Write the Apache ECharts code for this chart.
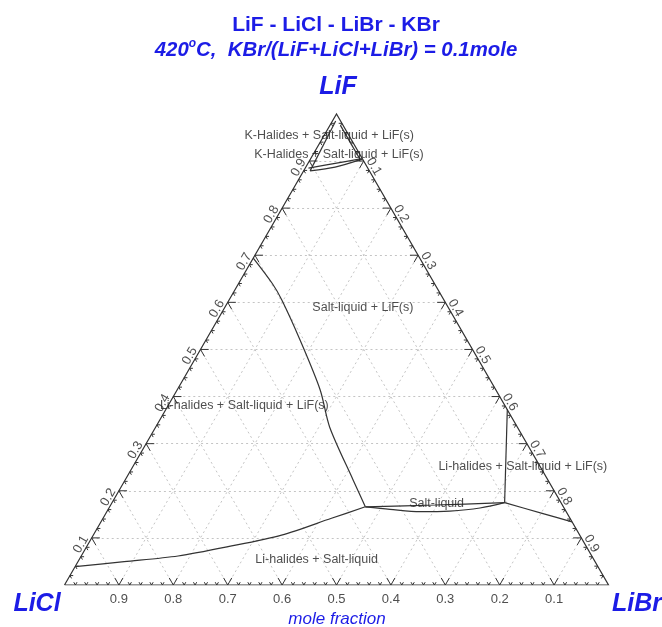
<!DOCTYPE html>
<html>
<head>
<meta charset="utf-8">
<script src="https://cdn.jsdelivr.net/npm/echarts@6/dist/echarts.min.js"></script>
<style>
    html, body { margin: 0; background: #fff; }
    #chart { width: 662px; height: 627px; }
</style>
</head>
<body>
<div id="chart"></div>
<script>
// every point is [LiF, LiBr] in mole fraction, LiCl = 1 - LiF - LiBr
const bottomTicks = ["0.9", "0.8", "0.7", "0.6", "0.5", "0.4", "0.3", "0.2", "0.1"]; // LiCl
const leftTicks = ["0.1", "0.2", "0.3", "0.4", "0.5", "0.6", "0.7", "0.8", "0.9"]; // LiF
const rightTicks = ["0.1", "0.2", "0.3", "0.4", "0.5", "0.6", "0.7", "0.8", "0.9"]; // LiBr

// phase boundaries
const lifLiquidus = [[0.694, 0.0], [0.64, 0.062], [0.605, 0.097], [0.52, 0.173], [0.414, 0.263], [0.335, 0.32], [0.223, 0.419], [0.166, 0.47]];
const liclLiquidus = [[0.039, 0.0], [0.0495, 0.085], [0.0616, 0.178], [0.0813, 0.26], [0.106, 0.346], [0.1416, 0.42], [0.166, 0.47]];
const lensUpper = [[0.166, 0.47], [0.1698, 0.596], [0.1747, 0.7217]];
const lensLower = [[0.166, 0.47], [0.1607, 0.518], [0.1556, 0.5757], [0.157, 0.63], [0.1634, 0.682], [0.1747, 0.7217]];
const rightTie = [[0.373, 0.6275], [0.1747, 0.7217]];
const librBranch = [[0.1747, 0.7217], [0.152, 0.802], [0.134, 0.866]];
const apexLeft = [[0.985, 0.006], [0.879, 0.012]];
const apexRight = [[0.975, 0.02], [0.905, 0.09]];
const apexUpper = [[0.885, 0.006], [0.895, 0.05], [0.905, 0.094]];
const apexLower = [[0.879, 0.012], [0.887, 0.054], [0.904, 0.095]];

const regionNames = [
    "K-Halides + Salt-liquid + LiF(s)",
    "K-Halides + Salt-liquid + LiF(s)",
    "Salt-liquid + LiF(s)",
    "Li-halides + Salt-liquid + LiF(s)",
    "Li-halides + Salt-liquid + LiF(s)",
    "Salt-liquid",
    "Li-halides + Salt-liquid",
];
const regionPos = [[0.955, 0.009], [0.913, 0.048], [0.589, 0.254], [0.381, 0.14], [0.251, 0.717], [0.172, 0.598], [0.055, 0.436]];

const blue = "#1c1ce6";
const font = "Liberation Sans, Arial, sans-serif";

function tern(a, c) {
    return [c + a / 2, a * Math.sqrt(3) / 2];
}

function seg(p, q) {
    return { coords: [tern(p[0], p[1]), tern(q[0], q[1])] };
}

// dotted grid, one line per 0.1 in each direction
const gridData = [];
for (let k = 1; k < 10; k++) {
    const v = k / 10;
    gridData.push(seg([v, 0], [v, 1 - v]));   // LiF const
    gridData.push(seg([0, v], [1 - v, v]));   // LiBr const
    gridData.push(seg([0, 1 - v], [1 - v, 0])); // LiCl const
}

// tick marks every 0.02, bigger every 0.1
const tickData = [];
for (let k = 1; k < 50; k++) {
    const t = k / 50;
    const len = k % 5 === 0 ? 0.015 : 0.006;
    // bottom edge
    tickData.push({ coords: [tern(len, t), tern(0, t), tern(len, t - len)] });
    // left edge
    tickData.push({ coords: [tern(t, len), tern(t, 0), tern(t - len, len)] });
    // right edge
    tickData.push({ coords: [tern(1 - t, t - len), tern(1 - t, t), tern(1 - t - len, t)] });
}

function boundary(pts, smooth) {
    return {
        type: "line",
        data: pts.map((p) => tern(p[0], p[1])),
        showSymbol: false,
        smooth: smooth,
        clip: false,
        silent: true,
        lineStyle: { color: "#333", width: 1.2 },
        z: 5,
    };
}

function tickLabels(list, pos, offset, rotate) {
    return {
        type: "scatter",
        symbolSize: 0,
        clip: false,
        silent: true,
        data: list.map((s) => {
            const v = parseFloat(s);
            return { name: s, value: pos(v) };
        }),
        label: {
            show: true,
            position: "inside",
            offset: offset,
            rotate: rotate,
            formatter: "{b}",
            fontFamily: font,
            fontSize: 13,
            color: "#222",
        },
        z: 6,
    };
}

const chart = echarts.init(document.getElementById("chart"));
chart.setOption({
    animation: false,
    grid: { left: 64.5, top: 41, width: 544, height: 544 },
    xAxis: { type: "value", min: 0, max: 1, show: false },
    yAxis: { type: "value", min: 0, max: 1, show: false },
    graphic: [
        {
            type: "text", x: 336, y: 25,
            style: { text: "LiF - LiCl - LiBr - KBr", font: "bold 21px " + font, fill: blue, textAlign: "center", textVerticalAlign: "middle" },
        },
        {
            type: "text", x: 336, y: 50,
            style: {
                text: "420{s|o}C,  KBr/(LiF+LiCl+LiBr) = 0.1mole",
                font: "italic bold 20.4px " + font, fill: blue, textAlign: "center", textVerticalAlign: "middle",
                rich: { s: { font: "italic bold 12px " + font, fill: blue, padding: [0, 0, 12, 0] } },
            },
        },
        {
            type: "text", x: 338, y: 87,
            style: { text: "LiF", font: "italic bold 25px " + font, fill: blue, textAlign: "center", textVerticalAlign: "middle" },
        },
        {
            type: "text", x: 37, y: 604,
            style: { text: "LiCl", font: "italic bold 25px " + font, fill: blue, textAlign: "center", textVerticalAlign: "middle" },
        },
        {
            type: "text", x: 637, y: 604,
            style: { text: "LiBr", font: "italic bold 25px " + font, fill: blue, textAlign: "center", textVerticalAlign: "middle" },
        },
        {
            type: "text", x: 337, y: 619,
            style: { text: "mole fraction", font: "italic 17px " + font, fill: blue, textAlign: "center", textVerticalAlign: "middle" },
        },
    ],
    series: [
        {
            type: "lines",
            coordinateSystem: "cartesian2d",
            data: gridData,
            silent: true,
            lineStyle: { color: "#c4c4c4", width: 1, type: [2, 3], opacity: 1 },
            z: 1,
        },
        {
            type: "lines",
            coordinateSystem: "cartesian2d",
            polyline: true,
            data: tickData,
            silent: true,
            lineStyle: { color: "#333", width: 1, opacity: 1 },
            z: 3,
        },
        {
            type: "lines",
            coordinateSystem: "cartesian2d",
            polyline: true,
            data: [{ coords: [tern(0, 0), tern(0, 1), tern(1, 0), tern(0, 0)] }],
            silent: true,
            lineStyle: { color: "#333", width: 1.2, opacity: 1 },
            z: 4,
        },
        boundary(lifLiquidus, 0.3),
        boundary(liclLiquidus, 0.3),
        boundary(lensUpper, 0.3),
        boundary(lensLower, 0.3),
        boundary(rightTie, false),
        boundary(librBranch, 0.2),
        boundary(apexLeft, false),
        boundary(apexRight, false),
        boundary(apexUpper, 0.3),
        boundary(apexLower, 0.3),
        tickLabels(bottomTicks, (v) => tern(0, 1 - v), [0, 14], 0),
        tickLabels(leftTicks, (v) => tern(v, 0), [-11, -6], 60),
        tickLabels(rightTicks, (v) => tern(1 - v, v), [10, -6], -60),
        {
            type: "scatter",
            symbolSize: 0,
            clip: false,
            silent: true,
            data: regionNames.map((n, i) => ({ name: n, value: tern(regionPos[i][0], regionPos[i][1]) })),
            label: {
                show: true,
                position: "inside",
                formatter: "{b}",
                fontFamily: font,
                fontSize: 12.5,
                color: "#222",
            },
            z: 7,
        },
    ],
});
</script>
</body>
</html>
